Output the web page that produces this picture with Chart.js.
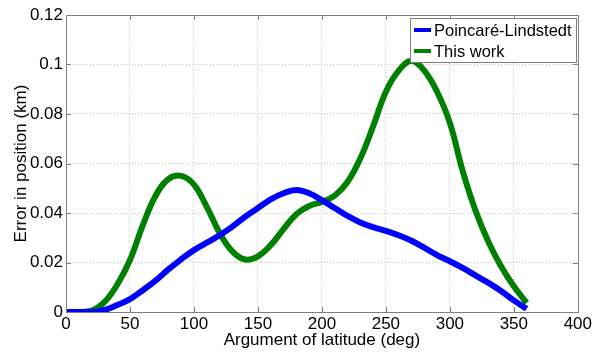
<!DOCTYPE html>
<html>
<head>
<meta charset="utf-8">
<title>Error in position</title>
<script src="https://cdn.jsdelivr.net/npm/chart.js@4.4.1/dist/chart.umd.min.js"></script>
<style>
  html, body { margin: 0; padding: 0; background: #fff; }
  #wrap { width: 594px; height: 356px; }
</style>
</head>
<body>
<div id="wrap"><canvas id="chart" width="594" height="356"></canvas></div>
<script>
// argument of latitude (deg), sampled every 10 deg
const angles = [0, 10, 20, 30, 40, 50, 60, 70, 80, 90, 100, 110, 120, 130, 140, 150, 160, 170, 180,
  190, 200, 210, 220, 230, 240, 250, 260, 270, 280, 290, 300, 310, 320, 330, 340, 350, 360];

// position error (km)
const poincareLindstedt = [0, 0, 0, 0.0008, 0.0028, 0.0052, 0.0088, 0.0127, 0.0172, 0.0213, 0.025,
  0.028, 0.031, 0.0345, 0.0385, 0.042, 0.0455, 0.048, 0.0493, 0.048, 0.0452, 0.042, 0.0388, 0.0362,
  0.0343, 0.0328, 0.031, 0.0288, 0.026, 0.023, 0.0205, 0.0178, 0.0148, 0.0118, 0.0085, 0.0047, 0.0013];
const thisWork = [0, 0, 0.0005, 0.004, 0.011, 0.021, 0.035, 0.047, 0.0537, 0.055, 0.0515,
  0.0425, 0.032, 0.0245, 0.0212, 0.0225, 0.027, 0.0335, 0.0395, 0.0428, 0.0445, 0.047, 0.0525, 0.062,
  0.075, 0.089, 0.0975, 0.1015, 0.0975, 0.089, 0.0764, 0.057, 0.041, 0.0285, 0.0185, 0.0104, 0.0037];

const seriesNames = ["Poincaré-Lindstedt", "This work"];
const xTicks = [0, 50, 100, 150, 200, 250, 300, 350, 400];
const yTicks = [0, 0.02, 0.04, 0.06, 0.08, 0.1, 0.12];
const yTickLabels = ["0", "0.02", "0.04", "0.06", "0.08", "0.1", "0.12"];

const FONT = { family: "'Liberation Sans', Arial, Helvetica, sans-serif", size: 17 };
const LEGEND_FONT_SIZE = 16.5;
const FRAME_COLOR = "#808080";
const GRID_COLOR = "#c4c4c4";

function toPoints(xs, ys) {
  return xs.map((x, i) => ({ x: x, y: ys[i] }));
}

function gridColor(ctx, edges) {
  if (!ctx.tick) return GRID_COLOR;
  return edges.includes(ctx.tick.value) ? "rgba(0,0,0,0)" : GRID_COLOR;
}

// box around the axes, inward tick marks, and the legend inside the plot
const matlabFrame = {
  id: "matlabFrame",
  afterDatasetsDraw(chart) {
    const ctx = chart.ctx;
    const area = chart.chartArea;
    const xs = chart.scales.x;
    const ys = chart.scales.y;
    const tickLen = 5;

    ctx.save();
    ctx.strokeStyle = FRAME_COLOR;
    ctx.lineWidth = 1;
    ctx.strokeRect(Math.round(area.left) + 0.5, Math.round(area.top) + 0.5,
      Math.round(area.right - area.left), Math.round(area.bottom - area.top));

    ctx.beginPath();
    xTicks.forEach((v) => {
      const px = Math.round(xs.getPixelForValue(v)) + 0.5;
      ctx.moveTo(px, area.bottom);
      ctx.lineTo(px, area.bottom - tickLen);
      ctx.moveTo(px, area.top);
      ctx.lineTo(px, area.top + tickLen);
    });
    yTicks.forEach((v) => {
      const py = Math.round(ys.getPixelForValue(v)) + 0.5;
      ctx.moveTo(area.left, py);
      ctx.lineTo(area.left + tickLen, py);
      ctx.moveTo(area.right, py);
      ctx.lineTo(area.right - tickLen, py);
    });
    ctx.stroke();

    // legend
    ctx.font = `${LEGEND_FONT_SIZE}px ${FONT.family}`;
    const datasets = chart.data.datasets;
    const textW = Math.max(...datasets.map((d) => ctx.measureText(d.label).width));
    const padL = 4, sampleW = 17, gap = 3, padR = 4, rowH = 21;
    const boxW = Math.round(padL + sampleW + gap + textW + padR);
    const boxH = 44;
    const boxR = Math.round(area.right) - 2;
    const boxL = boxR - boxW;
    const boxT = Math.round(area.top) + 3;

    ctx.fillStyle = "#fff";
    ctx.fillRect(boxL, boxT, boxW, boxH);
    ctx.strokeStyle = FRAME_COLOR;
    ctx.strokeRect(boxL + 0.5, boxT + 0.5, boxW, boxH);

    datasets.forEach((d, i) => {
      const cy = boxT + 12 + i * rowH;
      ctx.strokeStyle = d.borderColor;
      ctx.lineWidth = 4;
      ctx.beginPath();
      ctx.moveTo(boxL + padL, cy);
      ctx.lineTo(boxL + padL + sampleW, cy);
      ctx.stroke();
      ctx.fillStyle = "#000";
      ctx.textAlign = "left";
      ctx.textBaseline = "middle";
      ctx.fillText(d.label, boxL + padL + sampleW + gap, cy + 1);
    });
    ctx.restore();
  }
};

new Chart(document.getElementById("chart"), {
  type: "line",
  data: {
    datasets: [
      {
        label: seriesNames[0],
        data: toPoints(angles, poincareLindstedt),
        borderColor: "#0000ff",
        borderWidth: 6,
        pointRadius: 0,
        tension: 0.4,
        borderJoinStyle: "round",
        fill: false
      },
      {
        label: seriesNames[1],
        data: toPoints(angles, thisWork),
        borderColor: "#008000",
        borderWidth: 6,
        pointRadius: 0,
        tension: 0.4,
        borderJoinStyle: "round",
        fill: false
      }
    ]
  },
  options: {
    responsive: false,
    animation: false,
    events: [],
    layout: { padding: { top: 15, right: 13, bottom: 0, left: 0 } },
    plugins: {
      legend: { display: false },
      tooltip: { enabled: false }
    },
    scales: {
      x: {
        type: "linear",
        min: 0,
        max: 400,
        afterBuildTicks: (s) => { s.ticks = xTicks.map((v) => ({ value: v })); },
        afterFit: (s) => { s.height = 44; },
        ticks: {
          autoSkip: false,
          maxRotation: 0,
          padding: 2,
          color: "#000",
          font: FONT,
          callback: (v) => String(v)
        },
        grid: {
          drawTicks: false,
          lineWidth: 1,
          color: (ctx) => gridColor(ctx, [0, 400])
        },
        border: { display: false, dash: [1, 2] },
        title: {
          display: true,
          text: "Argument of latitude (deg)",
          color: "#000",
          font: FONT,
          padding: { top: 0, bottom: 5 }
        }
      },
      y: {
        min: 0,
        max: 0.12,
        afterBuildTicks: (s) => { s.ticks = yTicks.map((v) => ({ value: v })); },
        afterFit: (s) => { s.width = 66; },
        ticks: {
          padding: 3,
          color: "#000",
          font: FONT,
          callback: (v) => yTickLabels[yTicks.findIndex((t) => Math.abs(t - v) < 1e-9)]
        },
        grid: {
          drawTicks: false,
          lineWidth: 1,
          color: (ctx) => gridColor(ctx, [0, 0.12])
        },
        border: { display: false, dash: [1, 2] },
        title: {
          display: true,
          text: "Error in position (km)",
          color: "#000",
          font: FONT,
          padding: { top: 11, bottom: 0 }
        }
      }
    }
  },
  plugins: [matlabFrame]
});
</script>
</body>
</html>
